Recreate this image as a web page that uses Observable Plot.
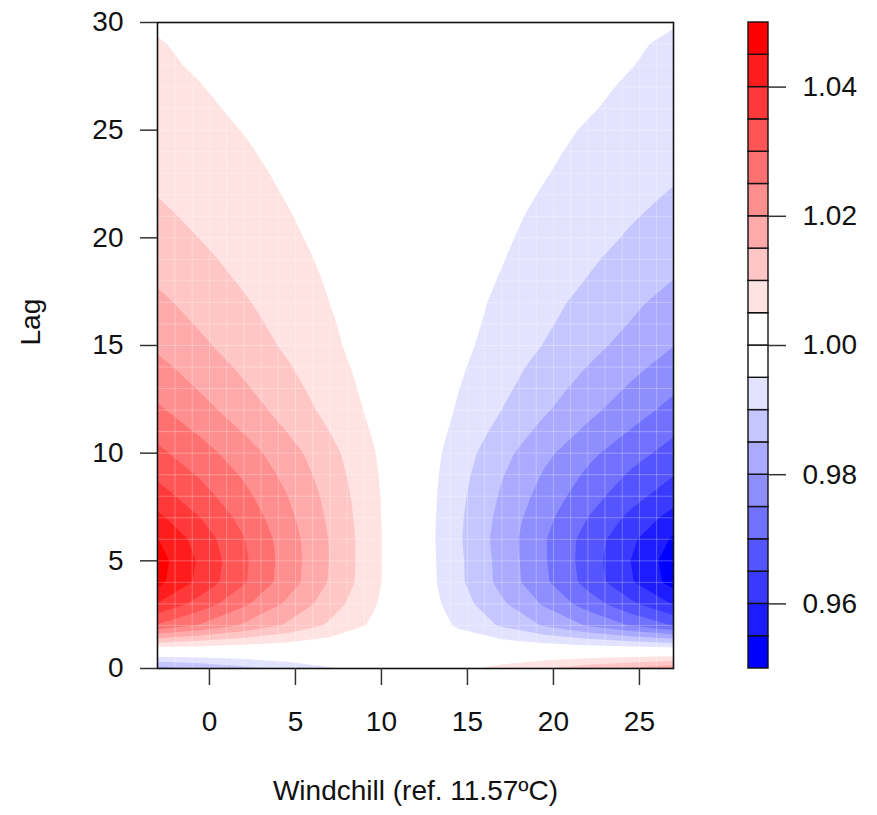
<!DOCTYPE html>
<html><head><meta charset="utf-8">
<script src="https://cdn.jsdelivr.net/npm/d3@7"></script>
<script src="https://cdn.jsdelivr.net/npm/@observablehq/plot@0.6"></script>
<style>
html,body{margin:0;padding:0;background:#fff;}
#chart{position:relative;width:877px;height:815px;}
#chart svg{position:absolute;top:0;}
</style></head><body><div id="chart"></div>
<script>
// prediction grid: windchill columns (uniform), integer lag rows
const windchill = [-3.02, -0.52, 1.98, 4.48, 6.98, 9.48, 11.98, 14.48, 16.98, 19.48, 21.98, 24.48, 26.98];
const lag = [0, 1, 2, 3, 4, 5, 6, 7, 8, 9, 10, 11, 12, 13, 14, 15, 16, 17, 18, 19, 20, 21, 22, 23, 24, 25, 26, 27, 28, 29, 30];
const rr = [
  [0.9825, 0.9855, 0.9885, 0.9915, 0.9945, 0.9975, 1.0005, 1.0036, 1.0066, 1.0097, 1.0128, 1.0158, 1.0189],
  [1.0052, 1.0043, 1.0034, 1.0025, 1.0016, 1.0007, 0.9999, 0.999, 0.9981, 0.9972, 0.9963, 0.9954, 0.9945],
  [1.0294, 1.0244, 1.0193, 1.0143, 1.0092, 1.0042, 0.9992, 0.9943, 0.9894, 0.9845, 0.9796, 0.9747, 0.9698],
  [1.0396, 1.0328, 1.026, 1.0192, 1.0125, 1.0057, 0.9989, 0.9924, 0.9859, 0.9793, 0.9728, 0.9662, 0.9597],
  [1.0465, 1.0385, 1.0306, 1.0226, 1.0146, 1.0067, 0.9988, 0.9911, 0.9835, 0.9759, 0.9683, 0.9606, 0.953],
  [1.0472, 1.0391, 1.031, 1.0229, 1.0149, 1.0068, 0.9987, 0.991, 0.9833, 0.9755, 0.9678, 0.96, 0.9523],
  [1.0452, 1.0378, 1.0303, 1.0226, 1.0148, 1.0068, 0.9987, 0.9907, 0.9829, 0.9754, 0.9681, 0.9611, 0.9543],
  [1.0412, 1.035, 1.0284, 1.0215, 1.0142, 1.0066, 0.9987, 0.9909, 0.9835, 0.9765, 0.97, 0.9638, 0.9581],
  [1.0372, 1.032, 1.0264, 1.0202, 1.0135, 1.0064, 0.9987, 0.9913, 0.9844, 0.978, 0.9722, 0.9669, 0.9621],
  [1.034, 1.0294, 1.0244, 1.0187, 1.0126, 1.006, 0.9988, 0.9918, 0.9854, 0.9795, 0.9742, 0.9694, 0.9652],
  [1.0311, 1.027, 1.0223, 1.0172, 1.0116, 1.0055, 0.9989, 0.9925, 0.9866, 0.9812, 0.9763, 0.9719, 0.9681],
  [1.0285, 1.0243, 1.0198, 1.015, 1.01, 1.0047, 0.9991, 0.9936, 0.9884, 0.9835, 0.979, 0.9747, 0.9707],
  [1.0258, 1.0217, 1.0175, 1.0131, 1.0086, 1.004, 0.9992, 0.9945, 0.99, 0.9856, 0.9814, 0.9773, 0.9734],
  [1.0235, 1.0196, 1.0157, 1.0117, 1.0077, 1.0035, 0.9993, 0.9951, 0.9911, 0.9871, 0.9832, 0.9794, 0.9757],
  [1.0213, 1.0177, 1.0141, 1.0105, 1.0068, 1.0031, 0.9994, 0.9957, 0.992, 0.9884, 0.9849, 0.9814, 0.9779],
  [1.0192, 1.0159, 1.0126, 1.0093, 1.006, 1.0027, 0.9995, 0.9962, 0.993, 0.9898, 0.9866, 0.9833, 0.9801],
  [1.0175, 1.0145, 1.0115, 1.0085, 1.0055, 1.0025, 0.9995, 0.9966, 0.9936, 0.9907, 0.9877, 0.9848, 0.9818],
  [1.016, 1.0133, 1.0105, 1.0078, 1.005, 1.0023, 0.9996, 0.9968, 0.9941, 0.9914, 0.9887, 0.986, 0.9833],
  [1.0145, 1.012, 1.0095, 1.007, 1.0046, 1.0021, 0.9996, 0.9971, 0.9947, 0.9922, 0.9898, 0.9873, 0.9849],
  [1.0132, 1.0109, 1.0087, 1.0064, 1.0042, 1.0019, 0.9996, 0.9974, 0.9952, 0.9929, 0.9907, 0.9884, 0.9862],
  [1.012, 1.0099, 1.0079, 1.0058, 1.0038, 1.0017, 0.9997, 0.9976, 0.9956, 0.9936, 0.9916, 0.9895, 0.9875],
  [1.0109, 1.009, 1.0072, 1.0053, 1.0034, 1.0016, 0.9997, 0.9978, 0.996, 0.9941, 0.9923, 0.9904, 0.9886],
  [1.0099, 1.0082, 1.0065, 1.0048, 1.0031, 1.0014, 0.9997, 0.998, 0.9963, 0.9947, 0.993, 0.9913, 0.9896],
  [1.009, 1.0075, 1.0059, 1.0044, 1.0028, 1.0013, 0.9997, 0.9982, 0.9967, 0.9952, 0.9937, 0.9921, 0.9906],
  [1.0082, 1.0068, 1.0054, 1.004, 1.0026, 1.0012, 0.9998, 0.9984, 0.997, 0.9956, 0.9942, 0.9928, 0.9914],
  [1.0074, 1.0061, 1.0049, 1.0036, 1.0023, 1.0011, 0.9998, 0.9985, 0.9973, 0.996, 0.9947, 0.9935, 0.9922],
  [1.0067, 1.0056, 1.0044, 1.0033, 1.0021, 1.001, 0.9998, 0.9987, 0.9975, 0.9964, 0.9953, 0.9941, 0.993],
  [1.0061, 1.0051, 1.004, 1.003, 1.0019, 1.0009, 0.9998, 0.9988, 0.9978, 0.9967, 0.9957, 0.9946, 0.9936],
  [1.0056, 1.0046, 1.0037, 1.0027, 1.0018, 1.0008, 0.9998, 0.9989, 0.9979, 0.997, 0.996, 0.9951, 0.9941],
  [1.0052, 1.0043, 1.0034, 1.0025, 1.0016, 1.0007, 0.9999, 0.999, 0.9981, 0.9972, 0.9963, 0.9954, 0.9945],
  [1.0046, 1.0038, 1.003, 1.0022, 1.0014, 1.0007, 0.9999, 0.9991, 0.9983, 0.9975, 0.9968, 0.996, 0.9952]
];
// contour levels and colours (blue -> white -> red)
const levels = [0.95, 0.955, 0.96, 0.965, 0.97, 0.975, 0.98, 0.985, 0.99, 0.995, 1.0,
                1.005, 1.01, 1.015, 1.02, 1.025, 1.03, 1.035, 1.04, 1.045, 1.05];
const palette = ["#0000FF", "#1C1CFF", "#3939FF", "#5555FF", "#7171FF", "#8E8EFF", "#AAAAFF", "#C6C6FF", "#E3E3FF", "#FFFFFF",
                 "#FFFFFF", "#FFE3E3", "#FFC6C6", "#FFAAAA", "#FF8E8E", "#FF7171", "#FF5555", "#FF3939", "#FF1C1C", "#FF0000"];
const xTicks = [0, 5, 10, 15, 20, 25];
const yTicks = [0, 5, 10, 15, 20, 25, 30];
const legendTicks = [0.96, 0.98, 1.00, 1.02, 1.04];
const xLabel = "Windchill (ref. 11.57ºC)";
const yLabel = "Lag";

const font = "'Liberation Sans', Arial, Helvetica, sans-serif";
const nx = windchill.length, ny = lag.length;
const dxCell = windchill[1] - windchill[0], dyCell = lag[1] - lag[0];
const xDomain = [windchill[0], windchill[nx - 1]];
const yDomain = [lag[0], lag[ny - 1]];
const values = rr.flat();

const main = Plot.plot({
  width: 700, height: 815,
  marginLeft: 157, marginRight: 27, marginTop: 22, marginBottom: 147,
  style: {fontFamily: font, fontSize: "28px", color: "#111", background: "transparent", overflow: "visible"},
  x: {domain: xDomain},
  y: {domain: yDomain},
  color: {type: "threshold", domain: levels.slice(1, -1), range: palette},
  marks: [
    Plot.contour(values, {
      width: nx, height: ny,
      x1: xDomain[0] - dxCell / 2, x2: xDomain[1] + dxCell / 2,
      y1: yDomain[0] - dyCell / 2, y2: yDomain[1] + dyCell / 2,
      fill: Plot.identity, thresholds: levels.slice(0, -1), clip: "frame"
    }),
    Plot.gridX({interval: 1, stroke: "white", strokeOpacity: 0.28, strokeWidth: 1}),
    Plot.gridY({interval: 1, stroke: "white", strokeOpacity: 0.28, strokeWidth: 1}),
    Plot.frame({stroke: "#111", strokeWidth: 1.6}),
    Plot.axisX(xTicks, {tickSize: 17, tickPadding: 26, label: null, stroke: "#333", strokeWidth: 1.5}),
    Plot.axisY(yTicks, {tickSize: 17, tickPadding: 17, label: null, stroke: "#333", strokeWidth: 1.5}),
    Plot.text([xLabel], {frameAnchor: "bottom", dy: 131}),
    Plot.text([yLabel], {frameAnchor: "left", dx: -126, rotate: -90})
  ]
});

const cells = palette.map((c, i) => ({lo: levels[i], hi: levels[i + 1], color: c}));
const legend = Plot.plot({
  width: 177, height: 815,
  marginLeft: 48, marginRight: 109, marginTop: 22, marginBottom: 147,
  style: {fontFamily: font, fontSize: "28px", color: "#111", background: "transparent", overflow: "visible"},
  x: {axis: null},
  y: {domain: [levels[0], levels[levels.length - 1]]},
  color: {type: "identity"},
  marks: [
    Plot.rectY(cells, {y1: "lo", y2: "hi", fill: "color", stroke: "#111", strokeWidth: 1.4}),
    Plot.axisY(legendTicks, {anchor: "right", tickSize: 17, tickPadding: 17, tickFormat: d3.format(".2f"), label: null, stroke: "#333", strokeWidth: 1.5})
  ]
});

const chart = document.getElementById("chart");
main.style.left = "0px";
legend.style.left = "700px";
chart.appendChild(main);
chart.appendChild(legend);
</script>
</body></html>
